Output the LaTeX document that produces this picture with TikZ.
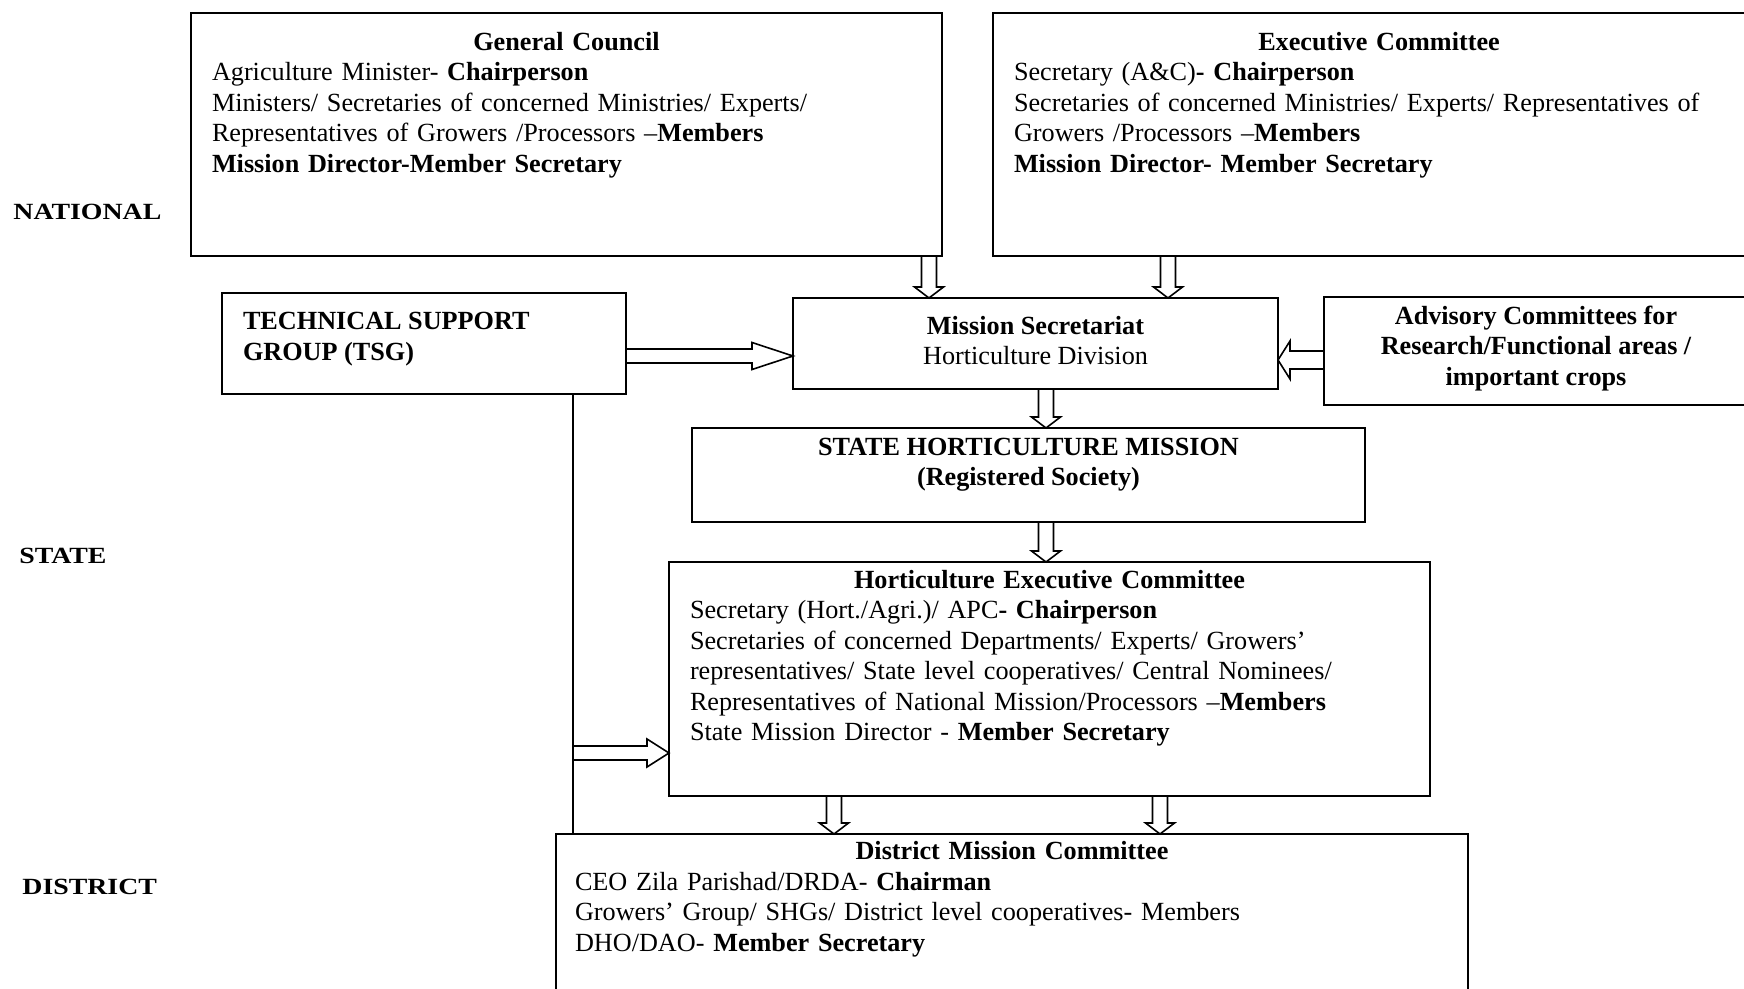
\documentclass[tikz,border=0pt]{standalone}
\usepackage{fontspec}
\setmainfont{Liberation Serif}
\newfontfamily\levelfont[FakeStretch=1.2]{Liberation Serif}
\usepackage{tikz}
\usetikzlibrary{positioning,calc}
\tikzset{
  box/.style 2 args={draw, line width=1pt, inner sep=0pt, outer sep=0pt, anchor=north west,
    minimum width=#1*0.5pt, minimum height=#2*0.5pt},
  txt/.style={inner sep=0pt, outer sep=0pt, font=\fontsize{13.1}{15.25}\selectfont},
  level/.style={inner sep=0pt, anchor=base west, font=\levelfont\bfseries\fontsize{11.6}{13}\selectfont},
  fatarrow/.style={draw, line width=0.8pt, line join=miter},
  tsgline/.style={line width=0.9pt},
}

\begin{document}
\begin{tikzpicture}[x=0.5pt, y=-0.5pt]

% Marco de la lamina (coordenadas en pixeles, y hacia abajo)
\useasboundingbox (0,0) rectangle (1744,989);
\clip (0,0) rectangle (1744,989);

% Flecha hueca vertical: columna, nodo origen, nodo destino
\newcommand{\fatdown}[3]{%
  \draw[fatarrow] ($(#2.south -| #1)+(-7.5,0)$) -- ($(#3.north -| #1)+(-7.5,-11)$)
    -- ($(#3.north -| #1)+(-14.5,-11)$) -- (#3.north -| #1)
    -- ($(#3.north -| #1)+(14.5,-11)$) -- ($(#3.north -| #1)+(7.5,-11)$)
    -- ($(#2.south -| #1)+(7.5,0)$);
}
% Flecha hueca horizontal: cola, punta, medio ancho, medio ancho punta, largo punta
\newcommand{\fatside}[5]{%
  \draw[fatarrow] ($#1+(0,-#3)$) -- ($#2+(#5,-#3)$) -- ($#2+(#5,-#4)$) -- #2
    -- ($#2+(#5,#4)$) -- ($#2+(#5,#3)$) -- ($#1+(0,#3)$);
}

% Niveles
\node[level] (national) at (13,220) {NATIONAL};
\node[level] (state) at (19,563) {STATE};
\node[level] (district) at (22,894) {DISTRICT};

% Cajas
\node[box={751}{243}] (gc) at (191,13) {};
\node[box={772}{243}] (ec) at (993,13) {};
\node[box={404}{101}] (tsg) at (222,293) {};
\node[box={485}{91}] (ms) at (793,298) {};
\node[box={424}{108}] (adv) at (1324,297) {};
\node[box={673}{94}] (shm) at (692,428) {};
\node[box={761}{234}] (hec) at (669,562) {};
\node[box={912}{170}] (dmc) at (556,834) {};

% Textos
\node[txt, text width=354.5pt, align=left, below right=7.85pt and 10.5pt of gc.north west] (gctext) {%
  \noindent\makebox[\hsize]{\strut\bfseries General Council}\\
  Agriculture Minister- \textbf{Chairperson}\\
  Ministers/ Secretaries of concerned Ministries/ Experts/\\
  Representatives of Growers /Processors –\textbf{Members}\\
  \textbf{Mission Director-Member Secretary}};
\node[txt, text width=365pt, align=left, below right=7.85pt and 10.5pt of ec.north west] (ectext) {%
  \noindent\makebox[\hsize]{\strut\bfseries Executive Committee}\\
  Secretary (A\&C)\textbf{- Chairperson}\\
  Secretaries of concerned Ministries/ Experts/ Representatives of\\
  Growers /Processors –\textbf{Members}\\
  \textbf{Mission Director- Member Secretary}};
\node[txt, align=left, font=\fontsize{13.1}{15.25}\selectfont\bfseries,
  below right=7.7pt and 10.5pt of tsg.north west] (tsgtext) {\strut TECHNICAL SUPPORT\\GROUP (TSG)};
\node[txt, align=center, below=7.4pt of ms.north] (mstext) {\strut\textbf{Mission Secretariat}\\Horticulture Division};
\node[txt, align=center, font=\fontsize{13.1}{15.25}\selectfont\bfseries,
  below=2.85pt of adv.north] (advtext) {\strut Advisory Committees for\\Research/Functional areas /\\important crops};
\node[txt, align=center, font=\fontsize{13.1}{15.25}\selectfont\bfseries,
  below=2.85pt of shm.north] (shmtext) {\strut STATE HORTICULTURE MISSION\\(Registered Society)};
\node[txt, text width=359.5pt, align=left, below right=2.35pt and 10.5pt of hec.north west] (hectext) {%
  \noindent\makebox[\hsize]{\strut\bfseries Horticulture Executive Committee}\\
  Secretary (Hort./Agri.)/ APC\textbf{- Chairperson}\\
  Secretaries of concerned Departments/ Experts/ Growers’\\
  representatives/ State level cooperatives/ Central Nominees/\\
  Representatives of National Mission/Processors –\textbf{Members}\\
  State Mission Director - \textbf{Member Secretary}};
\node[txt, text width=437pt, align=left, below right=2.25pt and 9.5pt of dmc.north west] (dmctext) {%
  \noindent\makebox[\hsize]{\strut\bfseries District Mission Committee}\\
  CEO Zila Parishad/DRDA- \textbf{Chairman}\\
  Growers’ Group/ SHGs/ District level cooperatives- Members\\
  DHO/DAO- \textbf{Member Secretary}};

% Columnas y filas de las flechas
\coordinate (colgc) at (929,0);
\coordinate (colec) at (1168,0);
\coordinate (colms) at (1046,0);
\coordinate (coldl) at (834,0);
\coordinate (coldr) at (1160,0);
\coordinate (coltsg) at (573,0);
\coordinate (rowtsg) at (0,356);
\coordinate (rowadv) at (0,360);
\coordinate (rowhec) at (0,753);

% Flechas
\fatdown{colgc}{gc}{ms}
\fatdown{colec}{ec}{ms}
\fatdown{colms}{ms}{shm}
\fatdown{colms}{shm}{hec}
\fatdown{coldl}{hec}{dmc}
\fatdown{coldr}{hec}{dmc}
\fatside{(tsg.east |- rowtsg)}{(ms.west |- rowtsg)}{7}{13.5}{-41}
\fatside{(adv.west |- rowadv)}{(ms.east |- rowadv)}{9}{19}{12}
\draw[tsgline] (tsg.south -| coltsg) -- (dmc.north -| coltsg);
\fatside{(coltsg |- rowhec)}{(hec.west |- rowhec)}{7}{14}{-22}

\end{tikzpicture}
\end{document}
